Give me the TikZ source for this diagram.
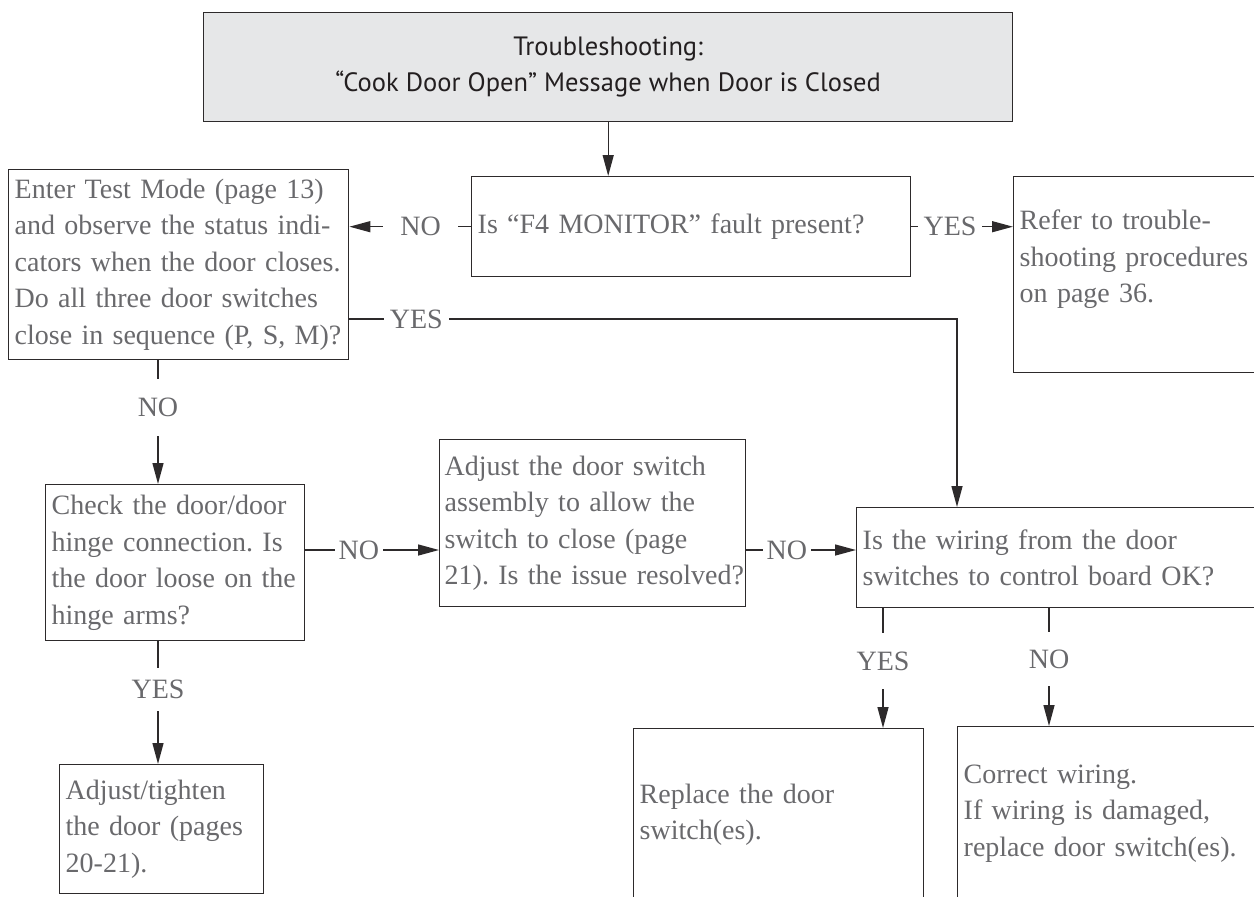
\documentclass[tikz,border=0pt]{standalone}
\usepackage{fontspec}
\setmainfont{Liberation Serif}
\newfontfamily\titlefont{PT Sans}
\usetikzlibrary{arrows.meta}
\definecolor{inkgray}{RGB}{105,105,108}
\definecolor{linegray}{RGB}{45,42,43}
\definecolor{titlefill}{RGB}{230,231,232}
\definecolor{titleink}{RGB}{35,31,32}
\frenchspacing

\begin{document}
\begin{tikzpicture}[x=1pt,y=-1pt,
  every node/.style={text=inkgray,font=\fontsize{28}{36.5}\selectfont},
  box/.style={draw=linegray,line width=1.4pt,anchor=north west,align=left,inner xsep=6pt,inner ysep=0pt},
  conn/.style={draw=linegray,line width=1.4pt},
  arr/.style={conn,-{Triangle[length=21pt,width=11pt]}},
  answer/.style={fill=white,inner xsep=6pt,inner ysep=4pt}]
  \useasboundingbox (0,0) rectangle (1254,897);
  \clip (0,0) rectangle (1254,897);
  \node[box,fill=titlefill,text=titleink,align=center,font=\titlefont\fontsize{26.5}{36}\selectfont,
    minimum width=809pt,minimum height=109pt] (title) at (203,12)
    {Troubleshooting:\\“Cook Door Open” Message when Door is Closed};
  \node[box,text width=328pt,minimum height=190pt] (test) at (8,169)
    {Enter Test Mode (page 13)\\and observe the status indi-\\cators when the door closes.\\Do all three door switches\\close in sequence (P, S, M)?};
  \node[box,text width=427pt,minimum height=100pt] (f4) at (471,176)
    {Is “F4 MONITOR” fault present?};
  \node[box,text width=248pt,minimum height=196pt] (refer) at (1013,176)
    {Refer to trouble-\\shooting procedures\\on page 36.\\\mbox{}};
  \node[box,text width=247pt,minimum height=156pt] (check) at (45,484)
    {Check the door/door\\hinge connection. Is\\the door loose on the\\hinge arms?};
  \node[box,inner xsep=5pt,text width=296pt,minimum height=167pt] (adjust) at (439,439)
    {Adjust the door switch\\assembly to allow the\\switch to close (page\\\mbox{21). Is the issue resolved?}};
  \node[box,text width=408pt,minimum height=100pt] (wire) at (856,507)
    {Is the wiring from the door\\switches to control board OK?};
  \node[box,text width=192pt,minimum height=129pt] (tighten) at (59,764)
    {Adjust/tighten\\the door (pages\\20-21).};
  \node[box,text width=278pt,minimum height=172pt] (replace) at (633,728)
    {Replace the door\\switch(es).};
  \node[box,text width=308pt,minimum height=174pt] (correct) at (957,726)
    {Correct wiring.\\If wiring is damaged,\\replace door switch(es).};

  \coordinate (yesturn) at (957,319);
  \coordinate (leftcol) at (158,0);
  \coordinate (midrow) at (0,550);
  \coordinate (yescol) at (883,0);
  \coordinate (nocol) at (1049,0);

  \draw[arr] (title.south) -- (title.south |- f4.north);
  \draw[arr] (f4.west) -- node[answer,pos=.415,inner xsep=17pt]{NO} (f4.west -| test.east);
  \draw[arr] (f4.east) -- node[answer,pos=.38]{YES} (f4.east -| refer.west);
  \draw[arr] (test.east |- yesturn) -- node[answer,pos=.11]{YES} (yesturn) -- (yesturn |- wire.north);
  \draw[arr] (test.south -| leftcol) -- node[answer,pos=.38,inner ysep=19pt]{NO} (check.north -| leftcol);
  \draw[arr] (check.south -| leftcol) -- node[answer,pos=.395,inner ysep=12pt]{YES} (tighten.north -| leftcol);
  \draw[arr] (check.east |- midrow) -- node[answer,pos=.4,inner xsep=4pt]{NO} (adjust.west |- midrow);
  \draw[arr] (adjust.east |- midrow) -- node[answer,pos=.37,inner xsep=4pt]{NO} (wire.west |- midrow);
  \draw[arr] (wire.south -| yescol) -- node[answer,pos=.44,inner ysep=19pt]{YES} (replace.north -| yescol);
  \draw[arr] (wire.south -| nocol) -- node[answer,pos=.43,inner ysep=18pt]{NO} (correct.north -| nocol);
\end{tikzpicture}
\end{document}
